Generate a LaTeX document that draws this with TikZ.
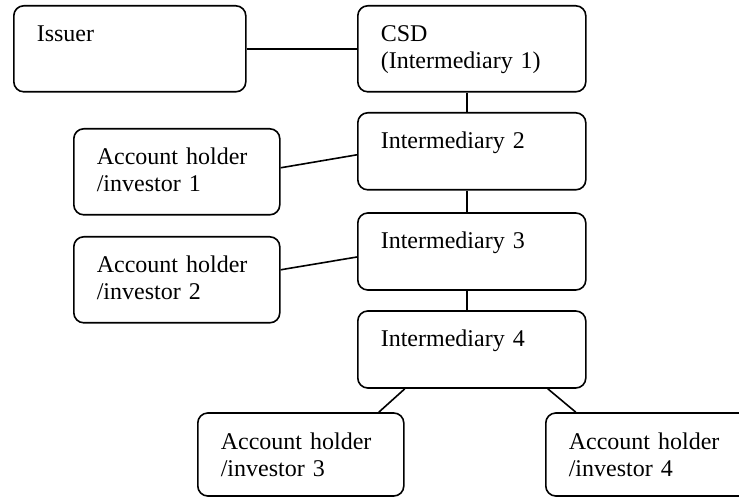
\documentclass[tikz,border=0pt]{standalone}
\usepackage{fontspec}
\setmainfont{Liberation Serif}
\usepackage{tikz}
\usetikzlibrary{positioning}

\begin{document}
\begin{tikzpicture}[
    line width=0.8pt,
    font=\fontsize{12pt}{13.5pt}\selectfont,
    box/.style={rectangle, draw, rounded corners=5pt, align=left, inner xsep=11.5pt, inner ysep=4pt, text height=14pt, text depth=21pt},
    entity/.style={box, text width=93pt},
    inter/.style={box, text width=91pt, text depth=16.5pt},
    holder/.style={box, text width=80pt}
]

\useasboundingbox (0,0) rectangle (369.5pt,-248.5pt);

% Issuer and CSD
\node[entity, anchor=north west] (issuer) at (6.5pt,-2.5pt) {Issuer};
\node[inter, text depth=21pt, right=55.2pt of issuer] (csd) {CSD\\(Intermediary 1)};

% Intermediaries
\node[inter, below=9.7pt of csd] (int2) {Intermediary 2};
\node[inter, below=10.8pt of int2] (int3) {Intermediary 3};
\node[inter, below=9.7pt of int3] (int4) {Intermediary 4};

% Account holders - left side
\node[holder, left=38.2pt of int2, yshift=-10.25pt] (acc1) {Account holder\\/investor 1};
\node[holder, below=10.2pt of acc1] (acc2) {Account holder\\/investor 2};

% Account holders - bottom
\node[holder, text depth=19.5pt, below=11.7pt of int4, xshift=-85.5pt] (acc3) {Account holder\\/investor 3};
\node[holder, text depth=19.5pt, below=11.7pt of int4, xshift=88.5pt] (acc4) {Account holder\\/investor 4};

% Connections - chain
\draw (issuer) -- (csd);
\draw ([xshift=-2.5pt]csd.south) -- ([xshift=-2.5pt]int2.north);
\draw ([xshift=-2.5pt]int2.south) -- ([xshift=-2.5pt]int3.north);
\draw ([xshift=-2.5pt]int3.south) -- ([xshift=-2.5pt]int4.north);

% Connections - account holders
\draw ([yshift=2pt]acc1.east) -- ([yshift=-1.75pt]int2.west);
\draw ([yshift=5pt]acc2.east) -- ([yshift=-2.75pt]int3.west);
\draw ([xshift=-33.5pt]int4.south) -- ([xshift=39pt]acc3.north);
\draw ([xshift=38pt]int4.south) -- ([xshift=-36.5pt]acc4.north);

\end{tikzpicture}
\end{document}
